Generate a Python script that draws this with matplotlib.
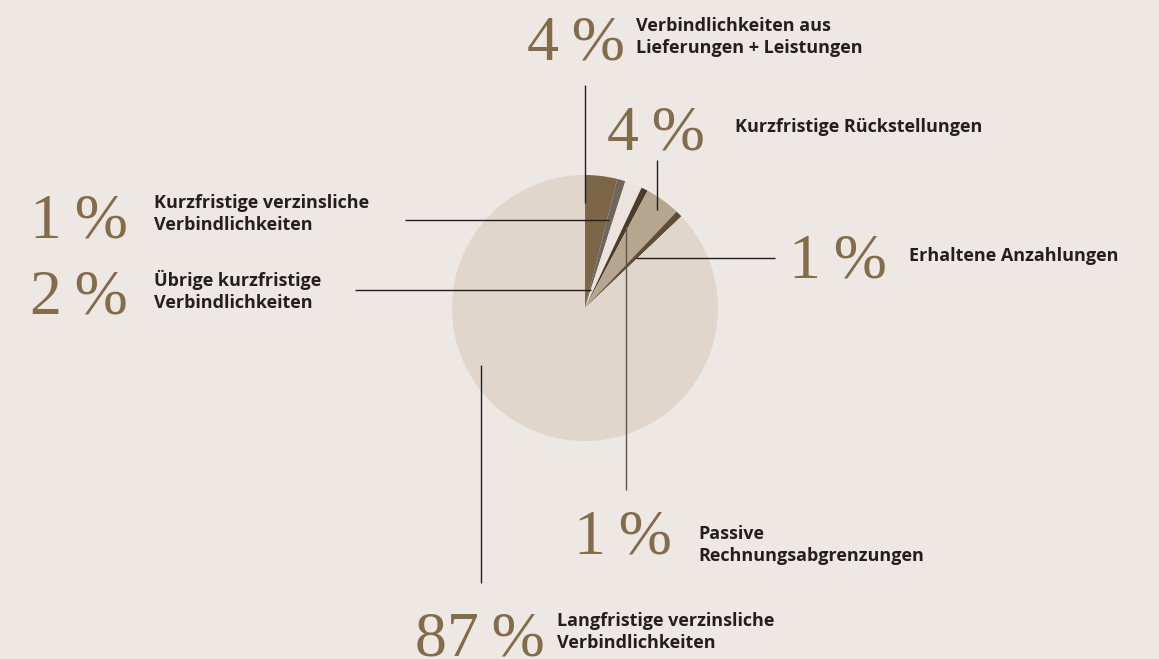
import matplotlib
matplotlib.use('Agg')
import matplotlib.pyplot as plt

# Slices clockwise from 12 o'clock
labels = ['Verbindlichkeiten aus\nLieferungen + Leistungen',
          'Kurzfristige verzinsliche\nVerbindlichkeiten',
          'Übrige kurzfristige\nVerbindlichkeiten',
          'Passive\nRechnungsabgrenzungen',
          'Kurzfristige Rückstellungen',
          'Erhaltene Anzahlungen',
          'Langfristige verzinsliche\nVerbindlichkeiten']
shares = [3.9, 1.0, 2.1, 0.8, 4.3, 0.8, 87.1]
pct_text = ['4', '1', '2', '1', '4', '1', '87']
colors = ['#7d6548', '#6f665d', '#ebe4de', '#4b3b29', '#b6a690', '#5e4c36', '#e0d6cc']

BG = '#ede8e4'
NUM_C = '#836c4a'
TXT_C = '#231f20'
W, H = 1159, 659

fig = plt.figure(figsize=(W / 100, H / 100), dpi=100, facecolor=BG)
ax = fig.add_axes([0, 0, 1, 1])
ax.set_facecolor(BG)


def Y(y):
    return H - y


ax.pie(shares, colors=colors, startangle=90, counterclock=False,
       center=(585, Y(308)), radius=133, frame=True,
       wedgeprops=dict(linewidth=0))
ax.set_xlim(0, W)
ax.set_ylim(0, H)
ax.set_aspect('equal')
ax.axis('off')

# leader lines (x0, y0, x1, y1) in image pixels, plus label placement
lines = [(585, 85, 585, 203), (405, 220, 609, 220), (355, 290, 591, 290),
         (626, 490, 626, 226), (657, 160, 657, 210), (775, 258, 636, 258),
         (481, 583, 481, 365)]
line_c = [TXT_C, TXT_C, TXT_C, '#5a5550', TXT_C, TXT_C, TXT_C]
num_pos = [(625, 60), (128, 238), (128, 313), (672, 553), (705, 150),
           (887, 277), (545, 655)]
lab_pos = [(636, 37), (154, 214), (154, 291), (698, 545), (735, 127),
           (909, 256), (557, 632)]

for i in range(len(shares)):
    x0, y0, x1, y1 = lines[i]
    ax.plot([x0, x1], [Y(y0), Y(y1)], color=line_c[i], lw=1.0,
            solid_capstyle='butt', zorder=5)
    nx, ny = num_pos[i]
    ax.text(nx, Y(ny), pct_text[i] + '\u2009%', ha='right', va='baseline',
            color=NUM_C, fontsize=46,
            family=['Liberation Serif', 'DejaVu Serif'])
    lx, ly = lab_pos[i]
    ax.text(lx, Y(ly), labels[i], ha='left', va='center', color=TXT_C,
            fontsize=13, fontweight='bold', family=['Open Sans', 'DejaVu Sans'],
            linespacing=1.3)

fig.savefig('out.png', dpi=100, facecolor=BG)
